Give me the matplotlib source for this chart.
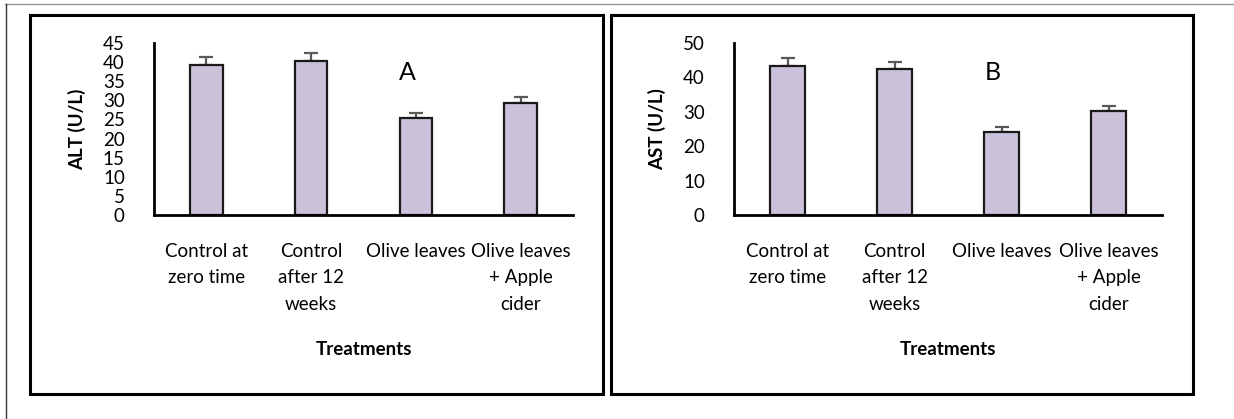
import matplotlib
matplotlib.use("Agg")
import matplotlib.pyplot as plt
from matplotlib.lines import Line2D
from matplotlib.patches import Rectangle
import numpy as np

plt.rcParams["font.family"] = ["Lato", "DejaVu Sans"]

treatments = ["Control at\nzero time", "Control\nafter 12\nweeks",
              "Olive leaves", "Olive leaves\n+ Apple\ncider"]
alt_vals = [39.3, 40.3, 25.3, 29.4]
alt_err = [2.0, 2.0, 1.3, 1.5]
ast_vals = [43.3, 42.5, 24.2, 30.1]
ast_err = [2.2, 2.0, 1.3, 1.6]

BAR_COLOR = "#CCC1DA"
W, H = 1234, 419
FS = 13.5

fig = plt.figure(figsize=(W / 100, H / 100), dpi=100)


def px_axes(x0, y0, x1, y1):
    # pixel box (top-left origin) -> figure axes
    return fig.add_axes([x0 / W, 1 - y1 / H, (x1 - x0) / W, (y1 - y0) / H])


def panel(ax, vals, err, ymax, step, ylabel, letter, width):
    x = np.arange(len(vals))
    ax.bar(x, vals, width=width, color=BAR_COLOR, edgecolor="#1a1a1a",
           linewidth=1.6, zorder=2)
    ax.errorbar(x, vals, yerr=[np.zeros(len(err)), err], fmt="none",
                ecolor="#595959", elinewidth=1.6, capsize=5, capthick=1.6,
                zorder=1)
    ax.set_xlim(-0.5, len(vals) - 0.5)
    ax.set_ylim(0, ymax)
    ax.set_yticks(np.arange(0, ymax + 0.1, step))
    ax.set_xticks(x)
    ax.set_xticklabels(treatments, fontsize=FS, linespacing=1.68, va="top")
    ax.tick_params(axis="y", length=0, pad=21, labelsize=FS)
    ax.tick_params(axis="x", length=0, pad=20)
    for s in ["top", "right"]:
        ax.spines[s].set_visible(False)
    for s in ["left", "bottom"]:
        ax.spines[s].set_linewidth(2)
        ax.spines[s].set_color("black")
    ax.set_xlabel("Treatments", fontsize=FS, fontweight="bold", labelpad=20)
    ax.set_ylabel(ylabel, fontsize=FS, fontweight="bold", labelpad=12)
    ax.text(1.92, ymax * 0.826, letter, fontsize=18, ha="center", va="center")


ax1 = px_axes(154, 43, 573, 215)
panel(ax1, alt_vals, alt_err, 45, 5, "ALT (U/L)", "A", 0.31)

ax2 = px_axes(734, 43, 1162, 215)
panel(ax2, ast_vals, ast_err, 50, 10, "AST (U/L)", "B", 0.325)

# page frame and the two panel boxes
fig.add_artist(Line2D([5 / W, 1], [1 - 4.5 / H, 1 - 4.5 / H],
                      transform=fig.transFigure, color="#999999", lw=1))
fig.add_artist(Line2D([6 / W, 6 / W], [0, 1 - 4.5 / H],
                      transform=fig.transFigure, color="#333333", lw=1))
for x0, x1 in [(30, 603), (611, 1193)]:
    fig.add_artist(Rectangle((x0 / W, 1 - 394 / H), (x1 - x0) / W, (394 - 15) / H,
                             transform=fig.transFigure, fill=False,
                             edgecolor="black", lw=2.2))

fig.savefig("out.png", dpi=100)
